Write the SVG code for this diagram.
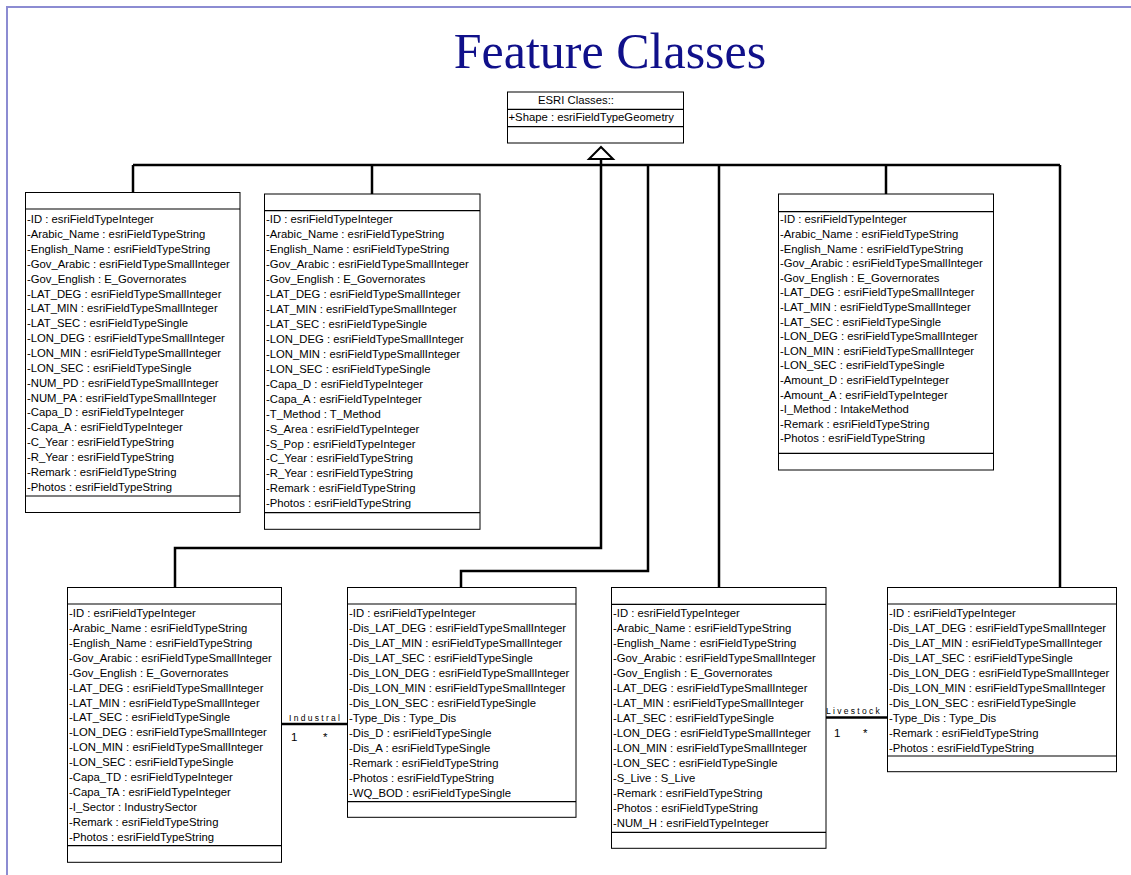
<svg xmlns="http://www.w3.org/2000/svg" width="1131" height="875" viewBox="0 0 1131 875">
<style>
.frame{fill:none;stroke:#8c8cd2;stroke-width:2}
.box{fill:#fff;stroke:#000;stroke-width:1}
.div{stroke:#000;stroke-width:1.2}
.t{font-family:"Liberation Sans",Arial,sans-serif;font-size:11.3px;fill:#000}
.conn{fill:none;stroke:#000;stroke-width:2.5}
.lbl{font-family:"Liberation Sans",Arial,sans-serif;font-size:8.5px;letter-spacing:2.3px;fill:#000}
.mult{font-family:"Liberation Sans",Arial,sans-serif;font-size:11.5px;fill:#000}
.title{font-family:"Liberation Serif","Times New Roman",serif;font-size:50px;fill:#10108a}
</style>
<rect width="1131" height="875" fill="#fff"/>
<path class="frame" d="M7,875 V7 H1131"/>
<text class="title" x="610" y="68" text-anchor="middle">Feature Classes</text>

<g id="connectors">
  <path class="conn" d="M133,165 H1060"/>
  <path class="conn" d="M133,165 V192.5"/>
  <path class="conn" d="M372,165 V194"/>
  <path class="conn" d="M886,165 V194"/>
  <path class="conn" d="M1060,165 V587.5"/>
  <path class="conn" d="M719,165 V587.5"/>
  <path class="conn" d="M648,165 V571 H461 V587.5"/>
  <path class="conn" d="M601,159 V548 H175 V587.5"/>
  <polygon points="601,147 613,159 589,159" fill="#fff" stroke="#000" stroke-width="2"/>
  <path class="conn" d="M281.5,724 H347.5"/>
  <text class="lbl" x="289" y="720.5">Industral</text>
  <text class="mult" x="291" y="741">1</text>
  <text class="mult" x="323" y="741">*</text>
  <path class="conn" d="M826,717.5 H887.5"/>
  <text class="lbl" x="826" y="714">Livestock</text>
  <text class="mult" x="834" y="737">1</text>
  <text class="mult" x="863" y="737">*</text>
</g>

<g id="esri">
  <rect class="box" x="507.5" y="92" width="176" height="51"/>
  <line class="div" x1="507.5" y1="109.3" x2="683.5" y2="109.3"/>
  <line class="div" x1="507.5" y1="126.7" x2="683.5" y2="126.7"/>
  <text class="t" x="538" y="104">ESRI Classes::</text>
  <text class="t" x="508.5" y="121">+Shape : esriFieldTypeGeometry</text>
</g>

<g id="class1">
  <rect class="box" x="25.5" y="192.5" width="214.5" height="320"/>
  <line class="div" x1="25.5" y1="209" x2="240" y2="209"/>
  <line class="div" x1="25.5" y1="496" x2="240" y2="496"/>
  <text class="t">
    <tspan x="27" y="223.3">-ID : esriFieldTypeInteger</tspan>
    <tspan x="27" dy="14.86">-Arabic_Name : esriFieldTypeString</tspan>
    <tspan x="27" dy="14.86">-English_Name : esriFieldTypeString</tspan>
    <tspan x="27" dy="14.86">-Gov_Arabic : esriFieldTypeSmallInteger</tspan>
    <tspan x="27" dy="14.86">-Gov_English : E_Governorates</tspan>
    <tspan x="27" dy="14.86">-LAT_DEG : esriFieldTypeSmallInteger</tspan>
    <tspan x="27" dy="14.86">-LAT_MIN : esriFieldTypeSmallInteger</tspan>
    <tspan x="27" dy="14.86">-LAT_SEC : esriFieldTypeSingle</tspan>
    <tspan x="27" dy="14.86">-LON_DEG : esriFieldTypeSmallInteger</tspan>
    <tspan x="27" dy="14.86">-LON_MIN : esriFieldTypeSmallInteger</tspan>
    <tspan x="27" dy="14.86">-LON_SEC : esriFieldTypeSingle</tspan>
    <tspan x="27" dy="14.86">-NUM_PD : esriFieldTypeSmallInteger</tspan>
    <tspan x="27" dy="14.86">-NUM_PA : esriFieldTypeSmallInteger</tspan>
    <tspan x="27" dy="14.86">-Capa_D : esriFieldTypeInteger</tspan>
    <tspan x="27" dy="14.86">-Capa_A : esriFieldTypeInteger</tspan>
    <tspan x="27" dy="14.86">-C_Year : esriFieldTypeString</tspan>
    <tspan x="27" dy="14.86">-R_Year : esriFieldTypeString</tspan>
    <tspan x="27" dy="14.86">-Remark : esriFieldTypeString</tspan>
    <tspan x="27" dy="14.86">-Photos : esriFieldTypeString</tspan>
  </text>
</g>

<g id="class2">
  <rect class="box" x="264.5" y="194" width="215.5" height="335.3"/>
  <line class="div" x1="264.5" y1="210.7" x2="480" y2="210.7"/>
  <line class="div" x1="264.5" y1="512.7" x2="480" y2="512.7"/>
  <text class="t">
    <tspan x="266" y="223.3">-ID : esriFieldTypeInteger</tspan>
    <tspan x="266" dy="14.95">-Arabic_Name : esriFieldTypeString</tspan>
    <tspan x="266" dy="14.95">-English_Name : esriFieldTypeString</tspan>
    <tspan x="266" dy="14.95">-Gov_Arabic : esriFieldTypeSmallInteger</tspan>
    <tspan x="266" dy="14.95">-Gov_English : E_Governorates</tspan>
    <tspan x="266" dy="14.95">-LAT_DEG : esriFieldTypeSmallInteger</tspan>
    <tspan x="266" dy="14.95">-LAT_MIN : esriFieldTypeSmallInteger</tspan>
    <tspan x="266" dy="14.95">-LAT_SEC : esriFieldTypeSingle</tspan>
    <tspan x="266" dy="14.95">-LON_DEG : esriFieldTypeSmallInteger</tspan>
    <tspan x="266" dy="14.95">-LON_MIN : esriFieldTypeSmallInteger</tspan>
    <tspan x="266" dy="14.95">-LON_SEC : esriFieldTypeSingle</tspan>
    <tspan x="266" dy="14.95">-Capa_D : esriFieldTypeInteger</tspan>
    <tspan x="266" dy="14.95">-Capa_A : esriFieldTypeInteger</tspan>
    <tspan x="266" dy="14.95">-T_Method : T_Method</tspan>
    <tspan x="266" dy="14.95">-S_Area : esriFieldTypeInteger</tspan>
    <tspan x="266" dy="14.95">-S_Pop : esriFieldTypeInteger</tspan>
    <tspan x="266" dy="14.95">-C_Year : esriFieldTypeString</tspan>
    <tspan x="266" dy="14.95">-R_Year : esriFieldTypeString</tspan>
    <tspan x="266" dy="14.95">-Remark : esriFieldTypeString</tspan>
    <tspan x="266" dy="14.95">-Photos : esriFieldTypeString</tspan>
  </text>
</g>

<g id="class3">
  <rect class="box" x="778.5" y="194" width="215" height="276"/>
  <line class="div" x1="778.5" y1="211.7" x2="993.5" y2="211.7"/>
  <line class="div" x1="778.5" y1="453.3" x2="993.5" y2="453.3"/>
  <text class="t">
    <tspan x="780" y="223.3">-ID : esriFieldTypeInteger</tspan>
    <tspan x="780" dy="14.6">-Arabic_Name : esriFieldTypeString</tspan>
    <tspan x="780" dy="14.6">-English_Name : esriFieldTypeString</tspan>
    <tspan x="780" dy="14.6">-Gov_Arabic : esriFieldTypeSmallInteger</tspan>
    <tspan x="780" dy="14.6">-Gov_English : E_Governorates</tspan>
    <tspan x="780" dy="14.6">-LAT_DEG : esriFieldTypeSmallInteger</tspan>
    <tspan x="780" dy="14.6">-LAT_MIN : esriFieldTypeSmallInteger</tspan>
    <tspan x="780" dy="14.6">-LAT_SEC : esriFieldTypeSingle</tspan>
    <tspan x="780" dy="14.6">-LON_DEG : esriFieldTypeSmallInteger</tspan>
    <tspan x="780" dy="14.6">-LON_MIN : esriFieldTypeSmallInteger</tspan>
    <tspan x="780" dy="14.6">-LON_SEC : esriFieldTypeSingle</tspan>
    <tspan x="780" dy="14.6">-Amount_D : esriFieldTypeInteger</tspan>
    <tspan x="780" dy="14.6">-Amount_A : esriFieldTypeInteger</tspan>
    <tspan x="780" dy="14.6">-I_Method : IntakeMethod</tspan>
    <tspan x="780" dy="14.6">-Remark : esriFieldTypeString</tspan>
    <tspan x="780" dy="14.6">-Photos : esriFieldTypeString</tspan>
  </text>
</g>

<g id="class4">
  <rect class="box" x="67.5" y="587.5" width="214" height="274.8"/>
  <line class="div" x1="67.5" y1="604" x2="281.5" y2="604"/>
  <line class="div" x1="67.5" y1="845.7" x2="281.5" y2="845.7"/>
  <text class="t">
    <tspan x="69" y="616.7">-ID : esriFieldTypeInteger</tspan>
    <tspan x="69" dy="14.97">-Arabic_Name : esriFieldTypeString</tspan>
    <tspan x="69" dy="14.97">-English_Name : esriFieldTypeString</tspan>
    <tspan x="69" dy="14.97">-Gov_Arabic : esriFieldTypeSmallInteger</tspan>
    <tspan x="69" dy="14.97">-Gov_English : E_Governorates</tspan>
    <tspan x="69" dy="14.97">-LAT_DEG : esriFieldTypeSmallInteger</tspan>
    <tspan x="69" dy="14.97">-LAT_MIN : esriFieldTypeSmallInteger</tspan>
    <tspan x="69" dy="14.97">-LAT_SEC : esriFieldTypeSingle</tspan>
    <tspan x="69" dy="14.97">-LON_DEG : esriFieldTypeSmallInteger</tspan>
    <tspan x="69" dy="14.97">-LON_MIN : esriFieldTypeSmallInteger</tspan>
    <tspan x="69" dy="14.97">-LON_SEC : esriFieldTypeSingle</tspan>
    <tspan x="69" dy="14.97">-Capa_TD : esriFieldTypeInteger</tspan>
    <tspan x="69" dy="14.97">-Capa_TA : esriFieldTypeInteger</tspan>
    <tspan x="69" dy="14.97">-I_Sector : IndustrySector</tspan>
    <tspan x="69" dy="14.97">-Remark : esriFieldTypeString</tspan>
    <tspan x="69" dy="14.97">-Photos : esriFieldTypeString</tspan>
  </text>
</g>

<g id="class5">
  <rect class="box" x="347.5" y="587.5" width="228.5" height="229.8"/>
  <line class="div" x1="347.5" y1="604" x2="576" y2="604"/>
  <line class="div" x1="347.5" y1="801.7" x2="576" y2="801.7"/>
  <text class="t">
    <tspan x="349" y="616.7">-ID : esriFieldTypeInteger</tspan>
    <tspan x="349" dy="15">-Dis_LAT_DEG : esriFieldTypeSmallInteger</tspan>
    <tspan x="349" dy="15">-Dis_LAT_MIN : esriFieldTypeSmallInteger</tspan>
    <tspan x="349" dy="15">-Dis_LAT_SEC : esriFieldTypeSingle</tspan>
    <tspan x="349" dy="15">-Dis_LON_DEG : esriFieldTypeSmallInteger</tspan>
    <tspan x="349" dy="15">-Dis_LON_MIN : esriFieldTypeSmallInteger</tspan>
    <tspan x="349" dy="15">-Dis_LON_SEC : esriFieldTypeSingle</tspan>
    <tspan x="349" dy="15">-Type_Dis : Type_Dis</tspan>
    <tspan x="349" dy="15">-Dis_D : esriFieldTypeSingle</tspan>
    <tspan x="349" dy="15">-Dis_A : esriFieldTypeSingle</tspan>
    <tspan x="349" dy="15">-Remark : esriFieldTypeString</tspan>
    <tspan x="349" dy="15">-Photos : esriFieldTypeString</tspan>
    <tspan x="349" dy="15">-WQ_BOD : esriFieldTypeSingle</tspan>
  </text>
</g>

<g id="class6">
  <rect class="box" x="611.5" y="587.5" width="214.5" height="260.8"/>
  <line class="div" x1="611.5" y1="604.3" x2="826" y2="604.3"/>
  <line class="div" x1="611.5" y1="832.3" x2="826" y2="832.3"/>
  <text class="t">
    <tspan x="613" y="616.7">-ID : esriFieldTypeInteger</tspan>
    <tspan x="613" dy="15">-Arabic_Name : esriFieldTypeString</tspan>
    <tspan x="613" dy="15">-English_Name : esriFieldTypeString</tspan>
    <tspan x="613" dy="15">-Gov_Arabic : esriFieldTypeSmallInteger</tspan>
    <tspan x="613" dy="15">-Gov_English : E_Governorates</tspan>
    <tspan x="613" dy="15">-LAT_DEG : esriFieldTypeSmallInteger</tspan>
    <tspan x="613" dy="15">-LAT_MIN : esriFieldTypeSmallInteger</tspan>
    <tspan x="613" dy="15">-LAT_SEC : esriFieldTypeSingle</tspan>
    <tspan x="613" dy="15">-LON_DEG : esriFieldTypeSmallInteger</tspan>
    <tspan x="613" dy="15">-LON_MIN : esriFieldTypeSmallInteger</tspan>
    <tspan x="613" dy="15">-LON_SEC : esriFieldTypeSingle</tspan>
    <tspan x="613" dy="15">-S_Live : S_Live</tspan>
    <tspan x="613" dy="15">-Remark : esriFieldTypeString</tspan>
    <tspan x="613" dy="15">-Photos : esriFieldTypeString</tspan>
    <tspan x="613" dy="15">-NUM_H : esriFieldTypeInteger</tspan>
  </text>
</g>

<g id="class7">
  <rect class="box" x="887.5" y="587.5" width="229" height="184.2"/>
  <line class="div" x1="887.5" y1="604" x2="1116.5" y2="604"/>
  <line class="div" x1="887.5" y1="756" x2="1116.5" y2="756"/>
  <text class="t">
    <tspan x="889" y="616.7">-ID : esriFieldTypeInteger</tspan>
    <tspan x="889" dy="15">-Dis_LAT_DEG : esriFieldTypeSmallInteger</tspan>
    <tspan x="889" dy="15">-Dis_LAT_MIN : esriFieldTypeSmallInteger</tspan>
    <tspan x="889" dy="15">-Dis_LAT_SEC : esriFieldTypeSingle</tspan>
    <tspan x="889" dy="15">-Dis_LON_DEG : esriFieldTypeSmallInteger</tspan>
    <tspan x="889" dy="15">-Dis_LON_MIN : esriFieldTypeSmallInteger</tspan>
    <tspan x="889" dy="15">-Dis_LON_SEC : esriFieldTypeSingle</tspan>
    <tspan x="889" dy="15">-Type_Dis : Type_Dis</tspan>
    <tspan x="889" dy="15">-Remark : esriFieldTypeString</tspan>
    <tspan x="889" dy="15">-Photos : esriFieldTypeString</tspan>
  </text>
</g>
</svg>
